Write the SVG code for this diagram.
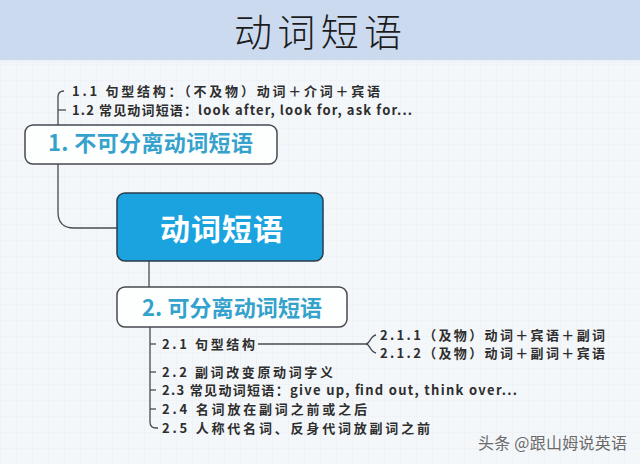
<svg xmlns="http://www.w3.org/2000/svg" width="640" height="464" viewBox="0 0 640 464">
  <defs>
    <pattern id="grid" width="16" height="16" patternUnits="userSpaceOnUse">
      <path d="M16 0 L0 0 L0 16" fill="none" stroke="#e6ecf2" stroke-width="1"/>
    </pattern>
    <style>
      .item { font-family: "Noto Sans CJK SC", "Noto Sans", sans-serif; font-size: 13px; font-weight: bold; fill: #2e2e2e; }
      .node { fill: #fdfefe; stroke: #454a50; stroke-width: 1.5; }
      .root { fill: #1aa3df; stroke: #2c3d4c; stroke-width: 1.5; }
      .ntext { font-family: "Noto Sans CJK SC", "Noto Sans", sans-serif; font-size: 22px; font-weight: bold; fill: #34a2cc; }
      .rtext { font-family: "Noto Sans CJK SC", sans-serif; font-size: 30px; font-weight: bold; fill: #ffffff; }
      .conn { fill: none; stroke: #474c52; stroke-width: 1.3; }
    </style>
  </defs>

  <!-- background -->
  <rect x="0" y="0" width="640" height="464" fill="#f4f7fa"/>
  <rect x="0" y="60" width="640" height="404" fill="url(#grid)" opacity="0.7"/>
  <rect x="0" y="0" width="640" height="60" fill="#cbdaef"/>
  <rect x="0" y="60" width="640" height="3" fill="#eef3f8"/>
  <text x="234" y="46" font-family="Noto Sans CJK SC, sans-serif" font-size="38" font-weight="300" fill="#1c1c1c" textLength="168" lengthAdjust="spacing">动词短语</text>

  <!-- connectors -->
  <g id="connectors">
    <path class="conn" d="M64 91 Q58 91 58 97 L58 212 Q58 228 74 228 L117 228"/>
    <path class="conn" d="M58 110 L66 110"/>
    <path class="conn" d="M149 261 L149 287"/>
    <path class="conn" d="M150 327 L150 422 Q150 428 156 428 L158 428"/>
    <path class="conn" d="M150 344 L156 344"/>
    <path class="conn" d="M150 372 L156 372"/>
    <path class="conn" d="M150 390 L156 390"/>
    <path class="conn" d="M150 409 L156 409"/>
    <path class="conn" d="M258 344 L366 344"/>
    <path class="conn" d="M366 344 C370 344 370 336 376 335"/>
    <path class="conn" d="M366 344 C370 344 370 352 376 353"/>
  </g>

  <!-- node 1 -->
  <g id="node1">
    <rect class="node" x="25" y="125" width="252" height="39" rx="8"/>
    <text class="ntext" x="48" y="151" textLength="205" lengthAdjust="spacing">1. 不可分离动词短语</text>
  </g>
  <g id="item1-1"><text class="item" x="72" y="96" textLength="308" lengthAdjust="spacing">1.1 句型结构：（不及物）动词＋介词＋宾语</text></g>
  <g id="item1-2"><text class="item" x="72" y="115" textLength="340" lengthAdjust="spacing">1.2 常见动词短语：look after, look for, ask for...</text></g>

  <!-- root -->
  <g id="root">
    <rect class="root" x="117" y="193" width="206" height="68" rx="8"/>
    <text class="rtext" x="160" y="240" textLength="123" lengthAdjust="spacing">动词短语</text>
  </g>

  <!-- node 2 -->
  <g id="node2">
    <rect class="node" x="117" y="287" width="230" height="40" rx="8"/>
    <text class="ntext" x="142" y="316" textLength="180" lengthAdjust="spacing">2. 可分离动词短语</text>
  </g>
  <g id="item2-1"><text class="item" x="162" y="349" textLength="93" lengthAdjust="spacing">2.1 句型结构</text></g>
  <g id="item2-1-1"><text class="item" x="380" y="340" textLength="225" lengthAdjust="spacing">2.1.1（及物）动词＋宾语＋副词</text></g>
  <g id="item2-1-2"><text class="item" x="380" y="358" textLength="225" lengthAdjust="spacing">2.1.2（及物）动词＋副词＋宾语</text></g>
  <g id="item2-2"><text class="item" x="162" y="377" textLength="171" lengthAdjust="spacing">2.2 副词改变原动词字义</text></g>
  <g id="item2-3"><text class="item" x="162" y="395" textLength="355" lengthAdjust="spacing">2.3 常见动词短语：give up, find out, think over...</text></g>
  <g id="item2-4"><text class="item" x="162" y="414" textLength="205" lengthAdjust="spacing">2.4 名词放在副词之前或之后</text></g>
  <g id="item2-5"><text class="item" x="162" y="433" textLength="268" lengthAdjust="spacing">2.5 人称代名词、反身代词放副词之前</text></g>

  <!-- watermark -->
  <text x="478" y="449" font-family="Noto Sans CJK SC, sans-serif" font-size="16" fill="#6a6a6a" textLength="149" lengthAdjust="spacing">头条 @跟山姆说英语</text>
</svg>
